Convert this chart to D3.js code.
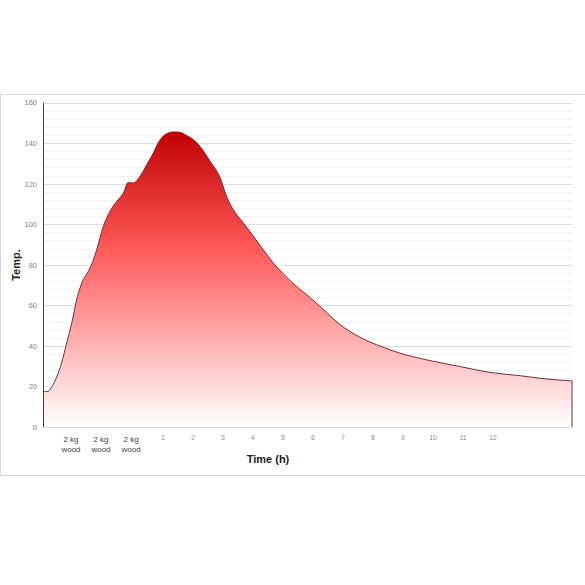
<!DOCTYPE html>
<html>
<head>
<meta charset="utf-8">
<script src="https://cdn.jsdelivr.net/npm/d3@7"></script>
<style>
  html, body { margin: 0; padding: 0; background: #fff; }
  svg { display: block; font-family: Calibri, Carlito, "Liberation Sans", Arial, sans-serif; }
</style>
</head>
<body>
<svg id="chart" width="585" height="585"></svg>
<script>
// Category slots along the x axis (slot position -> label)
const tickSlots = [1, 2, 3, 4, 5, 6, 7, 8, 9, 10, 11, 12, 13, 14, 15];
const tickLabels = ["2 kg\nwood", "2 kg\nwood", "2 kg\nwood", "1", "2", "3", "4", "5", "6", "7", "8", "9", "10", "11", "12"];
const xMax = 17.63;

// Temperature curve: position along x (in slots) and temperature
const timePos = [0, 0.17, 0.3, 0.46, 0.62, 0.79, 0.96, 1.12, 1.34, 1.51, 1.68, 1.79, 2.01, 2.23, 2.46, 2.68, 2.84, 3.01, 3.23, 3.46, 3.68, 3.84, 4.07, 4.34, 4.57, 4.79, 5.01, 5.23, 5.57, 5.9, 6.12, 6.34, 6.68, 7.01, 7.34, 7.68, 8.01, 8.46, 8.79, 9.23, 9.9, 10.57, 11.23, 11.9, 12.79, 13.9, 14.9, 15.9, 16.57, 17.63];
const temps   = [17.4, 17.6, 20, 24.8, 31.6, 41.5, 51.4, 62.7, 72.6, 76.7, 82.5, 87.4, 98.9, 106.3, 111.3, 115.4, 120.6, 120.3, 123.6, 129.4, 135.2, 140.1, 144.2, 145.5, 145.3, 143.7, 141.7, 138.4, 131, 123, 113.7, 107.2, 100.6, 94.1, 87.4, 80.8, 75.5, 69.2, 65.2, 59.5, 50.5, 44.2, 39.9, 36.4, 33.1, 29.8, 26.9, 25.3, 24, 22.7];

const yTicks = [0, 20, 40, 60, 80, 100, 120, 140, 160];
const yMinorTicks = d3.range(0, 161, 4);

const svg = d3.select("#chart");
const L = 43, R = 572, T = 102.5, B = 427;

// chart frame
svg.append("rect").attr("x", 0.5).attr("y", 94.5).attr("width", 590).attr("height", 381)
  .attr("fill", "#fff").attr("stroke", "#d9d9d9").attr("stroke-width", 1);

const x = d3.scaleLinear().domain([0, xMax]).range([L, R]);
const y = d3.scaleLinear().domain([0, 160]).range([B, T]);

// minor gridlines
svg.append("g").selectAll("line").data(yMinorTicks.filter(v => v % 20 !== 0)).join("line")
  .attr("x1", L).attr("x2", R)
  .attr("y1", d => Math.round(y(d)) + 0.5).attr("y2", d => Math.round(y(d)) + 0.5)
  .attr("stroke", "#f0f0f0").attr("stroke-width", 1);
// major gridlines
svg.append("g").selectAll("line").data(yTicks).join("line")
  .attr("x1", L).attr("x2", R)
  .attr("y1", d => Math.round(y(d)) + 0.5).attr("y2", d => Math.round(y(d)) + 0.5)
  .attr("stroke", "#dcdcdc").attr("stroke-width", 1);

// gradient
const defs = svg.append("defs");
const grad = defs.append("linearGradient").attr("id", "fillGrad")
  .attr("gradientUnits", "userSpaceOnUse")
  .attr("x1", 0).attr("x2", 0).attr("y1", y(146)).attr("y2", y(0));
grad.append("stop").attr("offset", "0%").attr("stop-color", "#c00000");
grad.append("stop").attr("offset", "40%").attr("stop-color", "#ff5a5a");
grad.append("stop").attr("offset", "100%").attr("stop-color", "#ffffff");

const pts = timePos.map((t, i) => [t, temps[i]]);

const area = d3.area().x(d => x(d[0])).y0(y(0)).y1(d => y(d[1])).curve(d3.curveMonotoneX);
svg.append("path").datum(pts).attr("d", area).attr("fill", "url(#fillGrad)");

// outline: top line plus right edge down to axis
const line = d3.line().x(d => x(d[0])).y(d => y(d[1])).curve(d3.curveMonotoneX);
svg.append("path").datum(pts).attr("d", line)
  .attr("fill", "none").attr("stroke", "#5a3a3a").attr("stroke-width", 1);
const last = pts[pts.length - 1];
svg.append("line").attr("x1", x(last[0])).attr("x2", x(last[0]))
  .attr("y1", y(last[1])).attr("y2", y(0)).attr("stroke", "#5a3a3a").attr("stroke-width", 1);

// x axis line
svg.append("line").attr("x1", L).attr("x2", R).attr("y1", B + 0.5).attr("y2", B + 0.5)
  .attr("stroke", "#d9d9d9");
// y axis line
svg.append("line").attr("x1", L + 0.5).attr("x2", L + 0.5).attr("y1", T).attr("y2", B)
  .attr("stroke", "#404040").attr("stroke-width", 1);

// y tick labels
const yAxis = d3.axisLeft(y).tickValues(yTicks).tickSize(0).tickPadding(6);
const gy = svg.append("g").attr("transform", `translate(${L},0)`).call(yAxis);
gy.select(".domain").remove();
gy.selectAll("text").attr("font-size", 7.5).attr("fill", "#7f7f7f")
  .attr("font-family", "'Liberation Sans', Arial, sans-serif");

// x tick labels
const gx = svg.append("g");
tickSlots.forEach((s, i) => {
  const lines = tickLabels[i].split("\n");
  const t = gx.append("text").attr("x", x(s)).attr("text-anchor", "middle");
  if (lines.length > 1) {
    t.attr("y", 442).attr("font-size", 8).attr("fill", "#404040")
      .attr("font-family", "'Liberation Sans', Arial, sans-serif");
    lines.forEach((ln, j) => t.append("tspan").attr("x", x(s) - 2).attr("dy", j === 0 ? 0 : 10).text(ln));
  } else {
    t.attr("y", 439.5).attr("font-size", 7).attr("fill", "#8c8c8c")
      .attr("font-family", "'Liberation Sans', Arial, sans-serif").text(tickLabels[i]);
  }
});

// axis titles
svg.append("text").attr("x", 268).attr("y", 463).attr("text-anchor", "middle")
  .attr("font-size", 11).attr("font-weight", "bold").attr("fill", "#222")
  .attr("font-family", "'Liberation Sans', Arial, sans-serif").text("Time (h)");
svg.append("text").attr("transform", "translate(20,265) rotate(-90)").attr("text-anchor", "middle")
  .attr("font-size", 11).attr("font-weight", "bold").attr("fill", "#222")
  .attr("font-family", "'Liberation Sans', Arial, sans-serif").text("Temp.");
</script>
</body>
</html>
